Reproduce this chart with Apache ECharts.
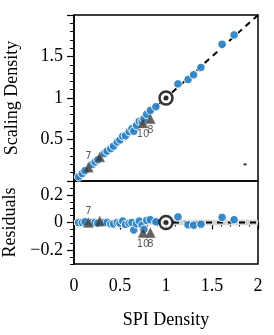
<!DOCTYPE html>
<html><head><meta charset="utf-8">
<script src="https://cdn.jsdelivr.net/npm/echarts@6/dist/echarts.min.js"></script>
<style>html,body{margin:0;padding:0;background:#fff}#c{width:274px;height:335px}</style>
</head><body><div id="c"></div>
<script>
// Blue points: SPI density (x), scaling density (top y), residuals (bottom y)
const blueX   = [0.05,0.09,0.12,0.20,0.23,0.26,0.33,0.36,0.40,0.43,0.47,0.50,0.53,0.56,0.60,0.63,0.65,0.68,0.71,0.74,0.76,0.79,0.83,0.89,1.13,1.24,1.30,1.38,1.61,1.74];
const blueY   = [0.05,0.09,0.125,0.20,0.23,0.255,0.33,0.36,0.39,0.42,0.47,0.495,0.54,0.545,0.595,0.63,0.60,0.67,0.72,0.72,0.75,0.805,0.85,0.895,1.17,1.223,1.28,1.368,1.647,1.76];
const blueRes = [0.0,0.0,0.005,0.0,0.0,-0.005,0.0,0.0,-0.01,-0.01,0.0,-0.005,0.01,-0.015,-0.005,0.0,-0.054,-0.01,0.01,-0.02,-0.05,0.015,0.02,0.005,0.04,-0.017,-0.02,-0.012,0.037,0.02];
// Triangle (labelled) points
const triX   = [0.156,0.28,0.75,0.83];
const triY   = [0.165,0.29,0.70,0.75];
const triRes = [0.0,0.01,-0.074,-0.074];
const triLab = ['7','','10','8'];
// Reference point
const refX = [1.0], refY = [1.0], refRes = [0.0];
// stray mark
const dotX = [1.86], dotY = [0.2];
// tick labels
const xTicks = [0,0.5,1,1.5,2];
const topYTicks = [0.5,1,1.5];
const resTicks = [-0.2,0,0.2];
const resMinor = [-0.3,-0.25,-0.2,-0.15,-0.1,-0.05,0,0.05,0.1,0.15,0.2,0.25,0.3];

const BLUE = '#2e84c4';
const serif = 'Liberation Serif';
const fmtNum = v => { const s = String(Math.round(v*100)/100); return s.replace('-', '\u2212'); };

const zip = (a,b) => a.map((v,i)=>[v,b[i]]);
const chart = echarts.init(document.getElementById('c'), null, {renderer:'canvas'});

const triData = (ys, pos) => triX.map((x,i)=>({value:[x,ys[i]], label:{show:!!triLab[i], formatter:triLab[i], position: pos[i]}}));

chart.setOption({
  animation:false,
  grid:[
    {left:74, top:15, width:184, height:166, show:true, borderColor:'#000', borderWidth:1.5, backgroundColor:'transparent', containLabel:false, outerBoundsMode:'none'},
    {left:74, top:181, width:184, height:83, show:true, borderColor:'#000', borderWidth:1.5, backgroundColor:'transparent', containLabel:false, outerBoundsMode:'none'}
  ],
  xAxis:[
    {gridIndex:0, type:'value', min:0, max:2, axisLine:{show:false}, axisTick:{show:false}, axisLabel:{show:false}, splitLine:{show:false}},
    {gridIndex:1, type:'value', min:0, max:2, interval:0.5,
      axisLine:{show:true, lineStyle:{color:'#000', width:1.5}},
      axisTick:{show:true, length:7, lineStyle:{color:'#000', width:1.2}},
      minorTick:{show:true, splitNumber:5, length:4, lineStyle:{color:'#000', width:1}},
      axisLabel:{fontFamily:serif, fontSize:18, color:'#000', margin:13, formatter:v=>xTicks.includes(v)?fmtNum(v):''},
      splitLine:{show:false}, minorSplitLine:{show:false},
      name:'SPI Density', nameLocation:'middle', nameGap:47, nameTextStyle:{fontFamily:serif, fontSize:18, color:'#000'}}
  ],
  yAxis:[
    {gridIndex:0, type:'value', min:0, max:2, interval:0.5,
      axisLine:{show:true, lineStyle:{color:'#000', width:1.5}},
      axisTick:{show:true, length:7, lineStyle:{color:'#000', width:1.2}},
      minorTick:{show:true, splitNumber:5, length:4, lineStyle:{color:'#000', width:1}},
      axisLabel:{fontFamily:serif, fontSize:18, color:'#000', margin:11, formatter:v=>topYTicks.includes(v)?fmtNum(v):''},
      splitLine:{show:false},
      name:'Scaling Density', nameLocation:'middle', nameGap:53, nameTextStyle:{fontFamily:serif, fontSize:18, color:'#000'}},
    {gridIndex:1, type:'value', min:-0.3, max:0.3, position:'left',
      axisLine:{show:true, lineStyle:{color:'#000', width:1.5}},
      axisTick:{show:true, length:7, customValues:resTicks, lineStyle:{color:'#000', width:1.2}},
      axisLabel:{fontFamily:serif, fontSize:18, color:'#000', margin:11, customValues:resTicks, formatter:v=>fmtNum(v)},
      splitLine:{show:false},
      name:'Residuals', nameLocation:'middle', nameGap:53, nameTextStyle:{fontFamily:serif, fontSize:18, color:'#000'}},
    {gridIndex:1, type:'value', min:-0.3, max:0.3, position:'left', offset:0,
      axisLine:{show:false},
      axisTick:{show:true, length:4, customValues:resMinor, lineStyle:{color:'#000', width:1}},
      axisLabel:{show:false}, splitLine:{show:false}}
  ],
  series:[
    {type:'line', xAxisIndex:0, yAxisIndex:0, data:[[0,0],[2,2]], symbol:'none', silent:true, z:1,
      lineStyle:{color:'#000', width:2, type:[6,5]}},
    {type:'scatter', xAxisIndex:0, yAxisIndex:0, data:zip(blueX,blueY), symbol:'circle', symbolSize:8.5, z:3,
      itemStyle:{color:BLUE, borderColor:'#fff', borderWidth:1, opacity:0.95}},
    {type:'scatter', xAxisIndex:0, yAxisIndex:0, data:triData(triY, ['top','top','bottom','bottom']), symbol:'triangle', symbolSize:10, z:4,
      itemStyle:{color:'#3a3a3a', borderColor:'#888', borderWidth:0.5},
      label:{color:'#333', fontSize:10, fontFamily:'DejaVu Sans', distance:1}},
    {type:'scatter', xAxisIndex:0, yAxisIndex:0, data:zip(refX,refY), symbol:'circle', symbolSize:13, z:5,
      itemStyle:{color:'#fff', borderColor:'#000', borderWidth:2.5}},
    {type:'scatter', xAxisIndex:0, yAxisIndex:0, data:zip(refX,refY), symbol:'circle', symbolSize:5, z:6,
      itemStyle:{color:'#000'}},
    {type:'scatter', xAxisIndex:0, yAxisIndex:0, data:zip(dotX,dotY), symbol:'rect', symbolSize:[3,2], z:3,
      itemStyle:{color:'#000'}},

    {type:'line', xAxisIndex:1, yAxisIndex:1, data:[[0,0],[2,0]], symbol:'none', silent:true, z:1,
      lineStyle:{color:'#000', width:2, type:[6,5]},
      markArea:{silent:true, itemStyle:{color:'#d4d4d4'}, data:[[{coord:[0,-0.02]},{coord:[2,0.02]}]]}},
    {type:'scatter', xAxisIndex:1, yAxisIndex:1, data:zip(blueX,blueRes), symbol:'circle', symbolSize:8.5, z:3,
      itemStyle:{color:BLUE, borderColor:'#fff', borderWidth:1, opacity:0.95}},
    {type:'scatter', xAxisIndex:1, yAxisIndex:1, data:triData(triRes, ['top','top','bottom','bottom']), symbol:'triangle', symbolSize:10, z:4,
      itemStyle:{color:'#3a3a3a', borderColor:'#888', borderWidth:0.5},
      label:{color:'#333', fontSize:10, fontFamily:'DejaVu Sans', distance:1}},
    {type:'scatter', xAxisIndex:1, yAxisIndex:1, data:zip(refX,refRes), symbol:'circle', symbolSize:13, z:5,
      itemStyle:{color:'#fff', borderColor:'#000', borderWidth:2.5}},
    {type:'scatter', xAxisIndex:1, yAxisIndex:1, data:zip(refX,refRes), symbol:'circle', symbolSize:5, z:6,
      itemStyle:{color:'#000'}}
  ]
});
</script></body></html>
